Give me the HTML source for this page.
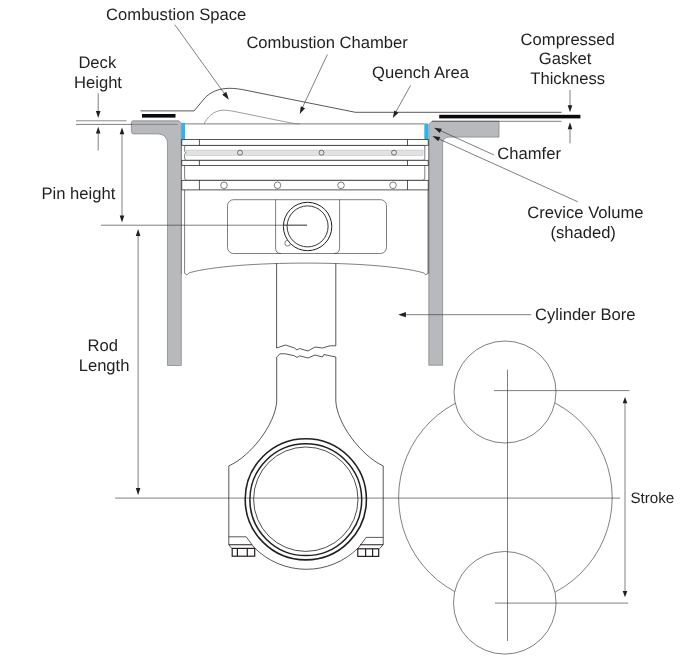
<!DOCTYPE html>
<html><head><meta charset="utf-8"><title>Piston diagram</title>
<style>
html,body{margin:0;padding:0;background:#fff;}
body{width:688px;height:656px;overflow:hidden;}
svg{display:block;}
text{font-family:"Liberation Sans",Arial,sans-serif;fill:#231f20;text-rendering:geometricPrecision;}
.l{stroke:#231f20;stroke-width:0.75;fill:none;}
.t{stroke:#3a3a3a;stroke-width:0.65;fill:none;}
.g{stroke:#8c8c8c;stroke-width:0.8;fill:none;}
.w{fill:#b8b9bc;stroke:#88898c;stroke-width:0.8;}
.a{fill:#231f20;stroke:none;}
</style></head><body>
<svg width="688" height="656" viewBox="0 0 688 656">
<rect width="688" height="656" fill="#fff"/>

<!-- crank circles -->
<g class="t">
<circle cx="505.4" cy="497.6" r="106.8" fill="#fff"/>
<circle cx="505" cy="392" r="51" fill="#fff"/>
<circle cx="504.8" cy="602.8" r="51.3" fill="#fff"/>
<line x1="507.5" y1="369.7" x2="507.5" y2="641"/>
<line x1="494" y1="390.6" x2="629.5" y2="390.6"/>
<line x1="495" y1="603.1" x2="628.2" y2="603.1"/>
<line x1="115" y1="498.1" x2="620.2" y2="498.1"/>
<line x1="625" y1="401" x2="625" y2="593"/>
</g>
<path class="a" d="M625 396.9 l2.3 6.3 h-4.6z M625 597.2 l2.3 -6.3 h-4.6z"/>

<!-- cylinder walls -->
<path class="w" d="M133 120.8 H178.9 L181.3 123.2 V365.5 H167.5 V142.9 A9 9 0 0 0 158.5 133.9 H134 Q131.4 133.9 131.4 131.4 V122.5 Q131.4 120.8 133 120.8 Z"/>
<path class="w" d="M432 121.2 H499 V137.1 H448.6 A6 6 0 0 0 442.6 143.1 V365.2 H428.8 V124.4 Z"/>
<line x1="131.2" y1="124.4" x2="177.7" y2="124.4" stroke="#77787a" stroke-width="0.8"/>
<line x1="181.4" y1="139.5" x2="181.4" y2="274" stroke="#6a6b6e" stroke-width="0.7"/>
<line x1="428.8" y1="139.5" x2="428.8" y2="274" stroke="#6a6b6e" stroke-width="0.7"/>

<!-- crevice (blue) -->
<rect x="181.4" y="122.8" width="3.6" height="16.6" fill="#2bb5ee"/>
<rect x="424.3" y="123.4" width="3.9" height="16" fill="#2bb5ee"/>

<!-- gasket -->
<rect x="142" y="114" width="33.5" height="3.6" fill="#0a0a0a"/>
<rect x="439.2" y="114.8" width="141.2" height="3.6" fill="#0a0a0a"/>

<!-- head / chamber outline -->
<path class="l" d="M140.5 110.9 H194.1 L204.8 98 C210 92.5 218 88.5 229 88.3 C235 88.3 240 89 246 90.3 L355.4 112.3 H561.6"/>
<path style="stroke:#6a6a6a;stroke-width:0.65;fill:none" d="M203.9 123.9 C207 118 213 110.5 223 110.2 C228 110.2 231 110.8 236 111.8 L290 122.8 Q295 123.9 300 123.9"/>
<line class="t" x1="432" y1="121.3" x2="561.6" y2="121.3"/>

<!-- piston -->
<g class="l">
<line x1="185" y1="123.9" x2="424.2" y2="123.9" style="stroke:#7c7c7c;stroke-width:1"/>
<!-- land 2 -->
<path class="t" fill="#fff" d="M186.5 145.3 H423 Q424.8 145.3 424.8 147 V158.5 Q424.8 160.3 423 160.3 H186.5 Q184.6 160.3 184.6 158.5 V154.5 L185.6 152.8 L184.6 151 V147 Q184.6 145.3 186.5 145.3Z"/>
<rect x="186.5" y="150.1" width="236.5" height="5.3" fill="#e1e2e4" stroke="#bfc0c2" stroke-width="0.6"/>
<!-- land 3 -->
<path class="t" fill="#fff" d="M184.6 165.4 V178 Q184.6 180.3 187 180.3 H422.4 Q424.8 180.3 424.8 178 V165.4"/>
<!-- ring 1 -->
<rect x="181.8" y="139.4" width="246.4" height="5.9" fill="#fff"/>
<line x1="199.4" y1="139.4" x2="199.4" y2="145.3"/>
<line x1="407.5" y1="139.4" x2="407.5" y2="145.3"/>
<!-- ring 2 -->
<rect x="181.8" y="160.3" width="246.4" height="5.2" fill="#fff"/>
<line x1="199.4" y1="160.3" x2="199.4" y2="165.5"/>
<line x1="407.5" y1="160.3" x2="407.5" y2="165.5"/>
<!-- oil ring -->
<rect x="181.8" y="180.3" width="246.4" height="9.6" fill="#fff"/>
<line x1="199.4" y1="180.3" x2="199.4" y2="189.9"/>
<line x1="407.5" y1="180.3" x2="407.5" y2="189.9"/>
<!-- skirt -->
<path class="t" d="M184.6 189.8 V273.4 L186.8 274.8 L189.5 272.7 C213 266.3 258 263.1 306.3 263.1 C354.6 263.1 399.6 266.3 423.1 272.7 L425.8 274.8 L428 273.4 V189.8"/>
</g>
<g class="t" fill="#fff">
<circle cx="240" cy="152.7" r="2.5"/><circle cx="321.5" cy="152.7" r="2.5"/><circle cx="394" cy="152.7" r="2.5"/>
<circle cx="224" cy="185.3" r="3.3"/><circle cx="277.5" cy="185.3" r="3.3"/><circle cx="341" cy="185.3" r="3.3"/><circle cx="393" cy="185.3" r="3.3"/>
</g>

<!-- pin boss -->
<g class="t">
<rect x="227.5" y="199.7" width="159" height="53.8" rx="6" ry="6"/>
<path d="M275.6 199.7 V248 Q275.6 253.5 281 253.5 M339.6 199.7 V248 Q339.6 253.5 334 253.5"/>
<circle cx="287.6" cy="243.2" r="2.8"/>
</g>
<circle class="l" cx="307.6" cy="226.5" r="24.2" style="stroke-width:1;fill:#fff"/>
<circle class="l" cx="307.6" cy="226.4" r="20.5" style="stroke-width:0.9"/>
<line class="t" x1="283" y1="225.2" x2="307" y2="225.2"/>

<!-- rod -->
<g class="l">
<path d="M276.6 263.4 V348 L285.5 345 L294.5 348 L297 350 L299.5 348.5 L308 351 L315 347 L322.5 348 L330 345.8 L335.8 345.8 V263.4"/>
<path d="M276.7 401 V357 L280 353.8 L285.5 353.8 L294.5 355.8 L297 357.5 L299.5 355.8 L308 358 L315 355 L322.5 357 L323.8 354.5 L335.8 357 V401"/>
<path d="M276.7 401 C275.5 424 251 456 228.8 465.9 V544.6 L231.6 548.4 M335.8 401 C337 424 361.5 456 383.2 465.9 V544.6 L379.6 548.6"/>
<path d="M228.8 536.8 H246.2 L254.7 548.3 M383.2 537.4 H366.2 L357.8 548.6"/>
<path d="M254.7 548 A73.4 73.4 0 0 0 357.8 548.3"/>
<path style="stroke-width:1.1" d="M228.8 544.8 H252 M360 544.8 H383.2"/>
<g style="stroke-width:1.2">
<rect x="232.2" y="548.4" width="22.5" height="7.8"/>
<path d="M237.4 548.4 V556.2 M247.3 548.4 V556.2"/>
<rect x="357.8" y="548.8" width="20.9" height="7.6"/>
<path d="M365.6 548.8 V556.4 M372.6 548.8 V556.4"/>
</g>
</g>
<circle cx="305.8" cy="499.3" r="60.6" class="l" style="stroke-width:1.6"/>
<circle cx="305.8" cy="499.7" r="55.9" class="l" style="stroke-width:1.5"/>
<circle cx="305.8" cy="499.2" r="52.2" class="l" style="stroke-width:0.8"/>

<!-- dimension lines -->
<g class="t">
<line x1="76" y1="120.8" x2="126.6" y2="120.8" style="stroke:#8a8a8a;stroke-width:1"/>
<line x1="76" y1="124.4" x2="132" y2="124.4"/>
<line x1="98.2" y1="93.3" x2="98.2" y2="113"/>
<line x1="98.2" y1="131" x2="98.2" y2="150.5"/>
<line x1="122" y1="132" x2="122" y2="218"/>
<line x1="101" y1="225.2" x2="307" y2="225.2"/>
<line x1="138.1" y1="233" x2="138.1" y2="490"/>
<line x1="570" y1="90" x2="570" y2="107"/>
<line x1="570" y1="127" x2="570" y2="143.3"/>
<line x1="405" y1="314.7" x2="531.2" y2="314.7"/>
<line x1="174.8" y1="24.7" x2="226" y2="95.8"/>
<line x1="327.4" y1="54.5" x2="301.5" y2="109.5"/>
<line x1="410.6" y1="85.4" x2="394.8" y2="113.8"/>
<line x1="494" y1="155" x2="439" y2="130"/>
<line x1="577.8" y1="201.8" x2="437" y2="138.1"/>
</g>
<path class="a" d="M98.2 118 l2.3 -7 h-4.6z M98.2 126.8 l2.3 6.8 h-4.6z M122 127.4 l2.3 6.8 h-4.6z M122 222.5 l2.3 -7 h-4.6z M138.1 228.9 l2.3 7 h-4.6z M138.1 495.2 l2.3 -7.2 h-4.6z M570 112.2 l2.3 -7 h-4.6z M570 122.2 l2.3 7 h-4.6z M398.2 314.7 l7.7 -2.6 v5.2z"/>
<path class="a" transform="translate(228.9 99.8) rotate(54.5)" d="M0 0 l-8 -2.5 v5z"/>
<path class="a" transform="translate(299.7 114) rotate(115.6)" d="M0 0 l-7.5 -2.4 v4.8z"/>
<path class="a" transform="translate(392.8 118.1) rotate(119)" d="M0 0 l-7.5 -2.4 v4.8z"/>
<path class="a" transform="translate(434 127.8) rotate(204.4)" d="M0 0 l-7.5 -2.4 v4.8z"/>
<path class="a" transform="translate(432.4 136) rotate(204.3)" d="M0 0 l-7.5 -2.4 v4.8z"/>

<!-- labels -->
<g font-size="16.6px" style="filter:grayscale(1)">
<text x="106.1" y="19.9">Combustion Space</text>
<text x="246.4" y="48.2">Combustion Chamber</text>
<text x="372.1" y="78.3">Quench Area</text>
<text x="78.4" y="68.3">Deck</text>
<text x="74" y="88.1">Height</text>
<text x="520.6" y="44.6">Compressed</text>
<text x="538.8" y="64.2">Gasket</text>
<text x="530.3" y="83.9">Thickness</text>
<text x="497.3" y="158.8">Chamfer</text>
<text x="527.3" y="218">Crevice Volume</text>
<text x="550.4" y="237.5">(shaded)</text>
<text x="535" y="320.3">Cylinder Bore</text>
<text x="41.5" y="198.7">Pin height</text>
<text x="87.6" y="351.2">Rod</text>
<text x="78.7" y="371.3">Length</text>
<text x="630.4" y="502.9" font-size="15.2px">Stroke</text>
</g>
</svg>
</body></html>
